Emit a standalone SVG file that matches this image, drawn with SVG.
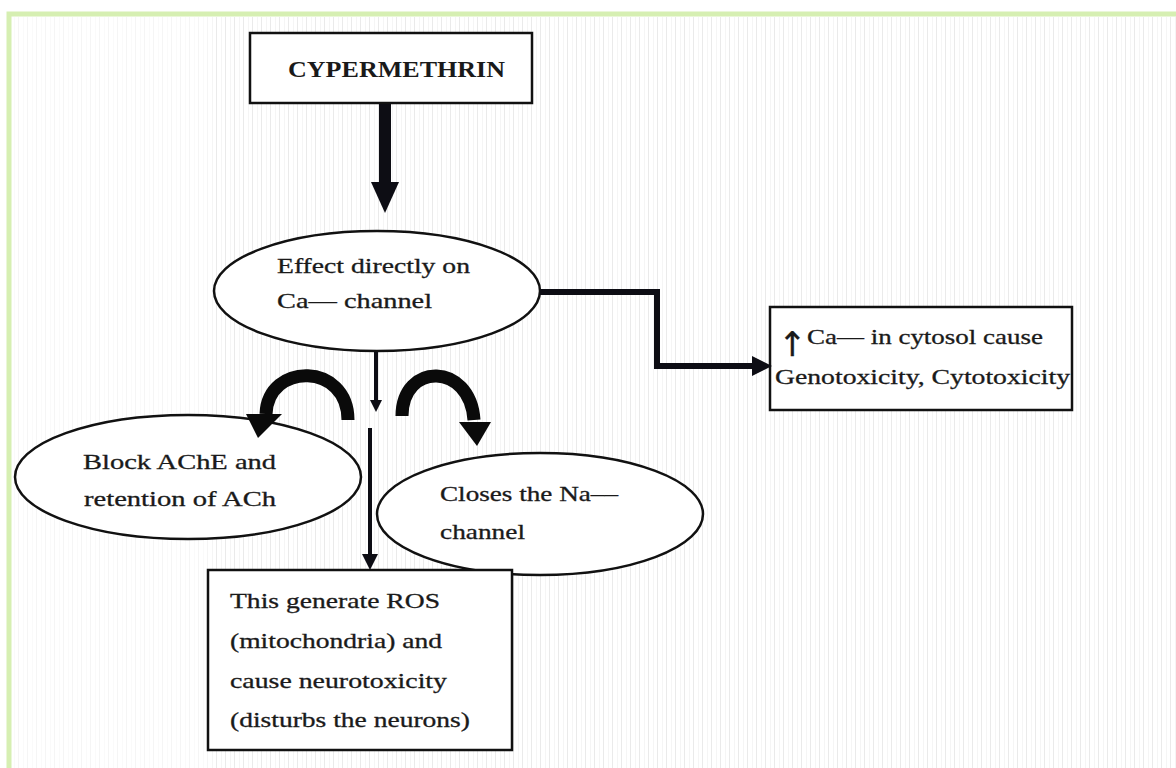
<svg xmlns="http://www.w3.org/2000/svg" width="1176" height="768" viewBox="0 0 1176 768">
  <defs>
    <style>
      .box { fill: #ffffff; stroke: #111; stroke-width: 2.5; }
      .ell { fill: #ffffff; stroke: #111; stroke-width: 2.5; }
      .t { font-family: "Liberation Serif", "Times New Roman", serif; font-size: 21px; fill: #1a1a1a; stroke: #1a1a1a; stroke-width: 0.3; }
      .tb { font-family: "Liberation Serif", "Times New Roman", serif; font-size: 24px; font-weight: bold; fill: #1a1a1a; }
      .thick { fill: none; stroke: #0d0d14; stroke-width: 6; }
      .thin { fill: none; stroke: #0d0d14; stroke-width: 4; }
      .arc { fill: none; stroke: #0a0a0a; stroke-width: 13; }
    </style>
    <pattern id="stripes" x="0" y="0" width="9" height="20" patternUnits="userSpaceOnUse">
      <rect x="0" y="0" width="1" height="20" fill="#d8d8d8"/>
      <rect x="5" y="0" width="1" height="20" fill="#ececec"/>
    </pattern>
  </defs>

  <rect x="0" y="0" width="1176" height="768" fill="#ffffff"/>
  <rect x="12" y="17" width="200" height="751" fill="url(#stripes)" opacity="0.25"/>
  <rect x="212" y="17" width="964" height="751" fill="url(#stripes)" opacity="0.55"/>
  <rect x="9" y="14" width="1200" height="800" fill="none" stroke="#d6efb2" stroke-width="5"/>

  <g id="node-cypermethrin">
    <rect class="box" x="250" y="33" width="282" height="70" stroke-width="3"/>
    <text class="tb" x="288" y="77" textLength="217" lengthAdjust="spacingAndGlyphs">CYPERMETHRIN</text>
  </g>

  <g id="node-effect">
    <ellipse class="ell" cx="377" cy="291" rx="163" ry="60"/>
    <text class="t" x="277" y="273" textLength="193" lengthAdjust="spacingAndGlyphs">Effect directly on</text>
    <text class="t" x="277" y="308" textLength="155" lengthAdjust="spacingAndGlyphs">Ca— channel</text>
  </g>

  <g id="node-cytosol">
    <rect class="box" x="770" y="307" width="302" height="103"/>
    <text class="t" x="778" y="356"><tspan font-size="34" font-family="DejaVu Sans, sans-serif">↑</tspan></text>
    <text class="t" x="807" y="344" textLength="236" lengthAdjust="spacingAndGlyphs">Ca— in cytosol cause</text>
    <text class="t" x="775" y="384" textLength="295" lengthAdjust="spacingAndGlyphs">Genotoxicity, Cytotoxicity</text>
  </g>

  <g id="node-ache">
    <ellipse class="ell" cx="188" cy="477" rx="173" ry="62"/>
    <text class="t" x="83" y="469" textLength="193" lengthAdjust="spacingAndGlyphs">Block AChE and</text>
    <text class="t" x="84" y="506" textLength="192" lengthAdjust="spacingAndGlyphs">retention of ACh</text>
  </g>

  <g id="node-na">
    <ellipse class="ell" cx="540" cy="514" rx="163" ry="61"/>
    <text class="t" x="440" y="501" textLength="178" lengthAdjust="spacingAndGlyphs">Closes the Na––</text>
    <text class="t" x="440" y="539" textLength="85" lengthAdjust="spacingAndGlyphs">channel</text>
  </g>

  <g id="node-ros">
    <rect class="box" x="208" y="570" width="304" height="180"/>
    <text class="t" x="230" y="608" textLength="210" lengthAdjust="spacingAndGlyphs">This generate ROS</text>
    <text class="t" x="230" y="648" textLength="212" lengthAdjust="spacingAndGlyphs">(mitochondria) and</text>
    <text class="t" x="230" y="688" textLength="217" lengthAdjust="spacingAndGlyphs">cause neurotoxicity</text>
    <text class="t" x="230" y="727" textLength="240" lengthAdjust="spacingAndGlyphs">(disturbs the neurons)</text>
  </g>

  <g id="connectors">
    <!-- big arrow from CYPERMETHRIN -->
    <rect x="379" y="104" width="12" height="81" fill="#0d0d14"/>
    <path d="M371,182 L399,182 L385,213 z" fill="#0d0d14"/>
    <!-- elbow connector to right box -->
    <path class="thick" d="M540,292 L657,292 L657,366 L757,366"/>
    <path d="M752,356 L772,366 L752,376 z" fill="#0d0d14"/>
    <!-- small arrow from ellipse bottom -->
    <path class="thin" d="M376,352 L376,402"/>
    <path d="M370,400 L382,400 L376,412 z" fill="#0d0d14"/>
    <!-- curved arrows -->
    <path class="arc" d="M348,420 C348,362 268,362 266,414"/>
    <path d="M246,414 L282,414 L258,438 z" fill="#0a0a0a"/>
    <path class="arc" d="M402,416 C402,362 470,362 474,420"/>
    <path d="M459,422 L491,422 L477,446 z" fill="#0a0a0a"/>
    <!-- long arrow to bottom box -->
    <path class="thin" d="M370,428 L370,556"/>
    <path d="M362,554 L378,554 L370,570 z" fill="#0d0d14"/>
  </g>
</svg>
